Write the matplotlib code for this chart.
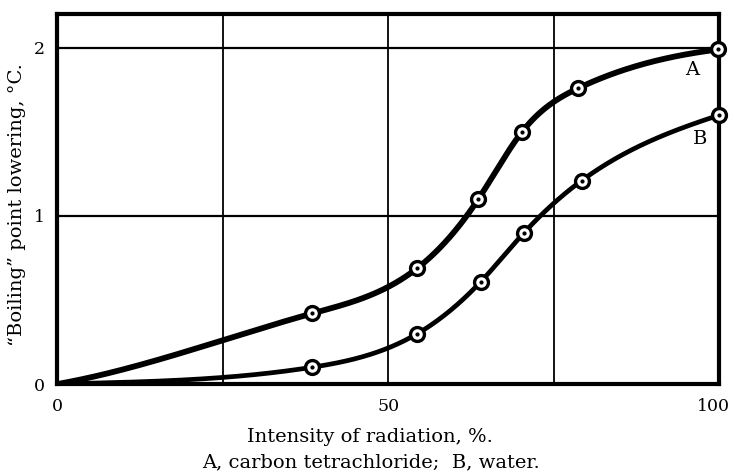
import numpy as np
import matplotlib
matplotlib.use("Agg")
import matplotlib.pyplot as plt
import matplotlib.transforms as mtransforms

# values
intensity_a = [0, 38.5, 54.4, 63.6, 70.2, 78.7, 99.8]
lowering_a = [0, 0.42, 0.69, 1.10, 1.50, 1.76, 1.99]
intensity_b = [0, 38.5, 54.4, 64.0, 70.5, 79.2, 100]
lowering_b = [0, 0.10, 0.30, 0.61, 0.90, 1.21, 1.60]
x_ticks = [0, 50, 100]
y_ticks = [0, 1, 2]


def smooth(x, y, xs, s0, s1):
    # clamped cubic spline, only used to draw the smooth pen line
    x = np.asarray(x, float)
    y = np.asarray(y, float)
    n = len(x)
    h = np.diff(x)
    d = np.diff(y) / h
    A = np.zeros((n, n))
    r = np.zeros(n)
    A[0, 0], A[0, 1] = 2 * h[0], h[0]
    r[0] = 6 * (d[0] - s0)
    A[-1, -2], A[-1, -1] = h[-1], 2 * h[-1]
    r[-1] = 6 * (s1 - d[-1])
    for i in range(1, n - 1):
        A[i, i - 1] = h[i - 1]
        A[i, i] = 2 * (h[i - 1] + h[i])
        A[i, i + 1] = h[i]
        r[i] = 6 * (d[i] - d[i - 1])
    M = np.linalg.solve(A, r)
    idx = np.clip(np.searchsorted(x, xs) - 1, 0, n - 2)
    hi = h[idx]
    a = x[idx + 1] - xs
    b = xs - x[idx]
    return (M[idx] * a**3 / (6 * hi) + M[idx + 1] * b**3 / (6 * hi)
            + (y[idx] / hi - M[idx] * hi / 6) * a
            + (y[idx + 1] / hi - M[idx + 1] * hi / 6) * b)


plt.rcParams['font.family'] = ['DejaVu Serif']

fig = plt.figure(figsize=(7.34, 4.73), dpi=100)
ax = fig.add_axes([0.078, 0.188, 0.902, 0.782])

for xv in [25, 50, 75]:
    ax.axvline(xv, color='black', lw=1.3, zorder=1)
for yv in [1, 2]:
    ax.axhline(yv, color='black', lw=1.6, zorder=1)

xa = np.linspace(intensity_a[0], intensity_a[-1], 400)
ax.plot(xa, smooth(intensity_a, lowering_a, xa, 0.007, 0.005), color='black',
        lw=4.2, solid_capstyle='round', zorder=2)
xb = np.linspace(intensity_b[0], intensity_b[-1], 400)
ax.plot(xb, smooth(intensity_b, lowering_b, xb, 0.001, 0.013), color='black',
        lw=3.4, solid_capstyle='round', zorder=2)

for xs, ys in [(intensity_a[1:], lowering_a[1:]), (intensity_b[1:], lowering_b[1:])]:
    ax.plot(xs, ys, 'o', ms=10, mfc='white', mec='black', mew=2.4, zorder=3,
            clip_on=False)
    ax.plot(xs, ys, 'o', ms=2, color='black', zorder=4, clip_on=False)

ax.text(95.9, 1.87, 'A', fontsize=14, ha='center', va='center')
ax.text(97.1, 1.46, 'B', fontsize=14, ha='center', va='center')

ax.set_xlim(0, 100)
ax.set_ylim(0, 2.2)
ax.set_xticks(x_ticks)
ax.set_yticks(y_ticks)
ax.tick_params(length=0, labelsize=12.5, pad=10)
ax.tick_params(axis='y', pad=9)
for s in ax.spines.values():
    s.set_linewidth(3)

# nudge the "100" label so it stays inside the picture
last = ax.get_xticklabels()[-1]
last.set_transform(last.get_transform() +
                   mtransforms.ScaledTranslation(-6 / 100, 0, fig.dpi_scale_trans))

fig.text(370 / 734, 1 - 437 / 473, 'Intensity of radiation, %.', fontsize=14,
         ha='center', va='center')
fig.text(17 / 734, 1 - 205 / 473, '\u201cBoiling\u201d point lowering, \u00b0C.',
         fontsize=14, ha='center', va='center', rotation=90)
fig.text(371 / 734, 1 - 462 / 473, 'A, carbon tetrachloride;  B, water.',
         fontsize=14, ha='center', va='center')

fig.savefig('out.png', dpi=100)
